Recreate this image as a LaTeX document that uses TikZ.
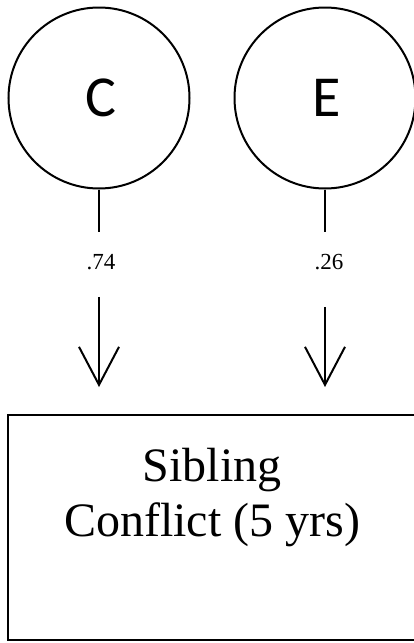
\documentclass[tikz,border=0pt]{standalone}
\usepackage{fontspec}
\setmainfont{Liberation Serif}
\newfontfamily\latentfont{Carlito}
\usetikzlibrary{arrows.meta,positioning}

\begin{document}
\begin{tikzpicture}[
  x=1pt, y=-1pt,
  latent/.style={draw, circle, line width=2pt, inner sep=0pt,
    minimum size=181pt, font=\latentfont\fontsize{58}{60}\selectfont},
  observed/.style={draw, line width=2pt, minimum width=408pt,
    minimum height=225pt, inner sep=0pt},
  boxtext/.style={align=center, inner sep=0pt,
    font=\fontsize{48}{55}\selectfont},
  lbl/.style={inner sep=0pt, font=\fontsize{23}{25}\selectfont},
  link/.style={line width=2pt},
  arr/.style={link, -{Straight Barb[length=38pt, width=40pt, line width=2pt]}}
]
\useasboundingbox (0,0) rectangle (414,643);

% latent factors
\node[latent] (C) at (99,98) {\raisebox{-4pt}{\hspace{4pt}C}};
\node[latent] (E) at (325,98) {\raisebox{-4pt}{\hspace{4pt}E}};

% outcome box
\node[observed] (conflict) at (212,527.5) {};
\node[boxtext, below=34pt of conflict.north] (ctext) {Sibling\\Conflict (5 yrs)};

% path weights
\node[lbl] (pC) at (101,262) {.74};
\node[lbl] (pE) at (329,262) {.26};

\draw[link, shorten >=22pt] (C) -- (C |- pC.north);
\draw[link, shorten >=22pt] (E) -- (E |- pE.north);
\draw[arr, shorten <=27pt, shorten >=27pt] (C |- pC.south) -- (C |- conflict.north);
\draw[arr, shorten <=37pt, shorten >=27pt] (E |- pE.south) -- (E |- conflict.north);
\end{tikzpicture}
\end{document}
